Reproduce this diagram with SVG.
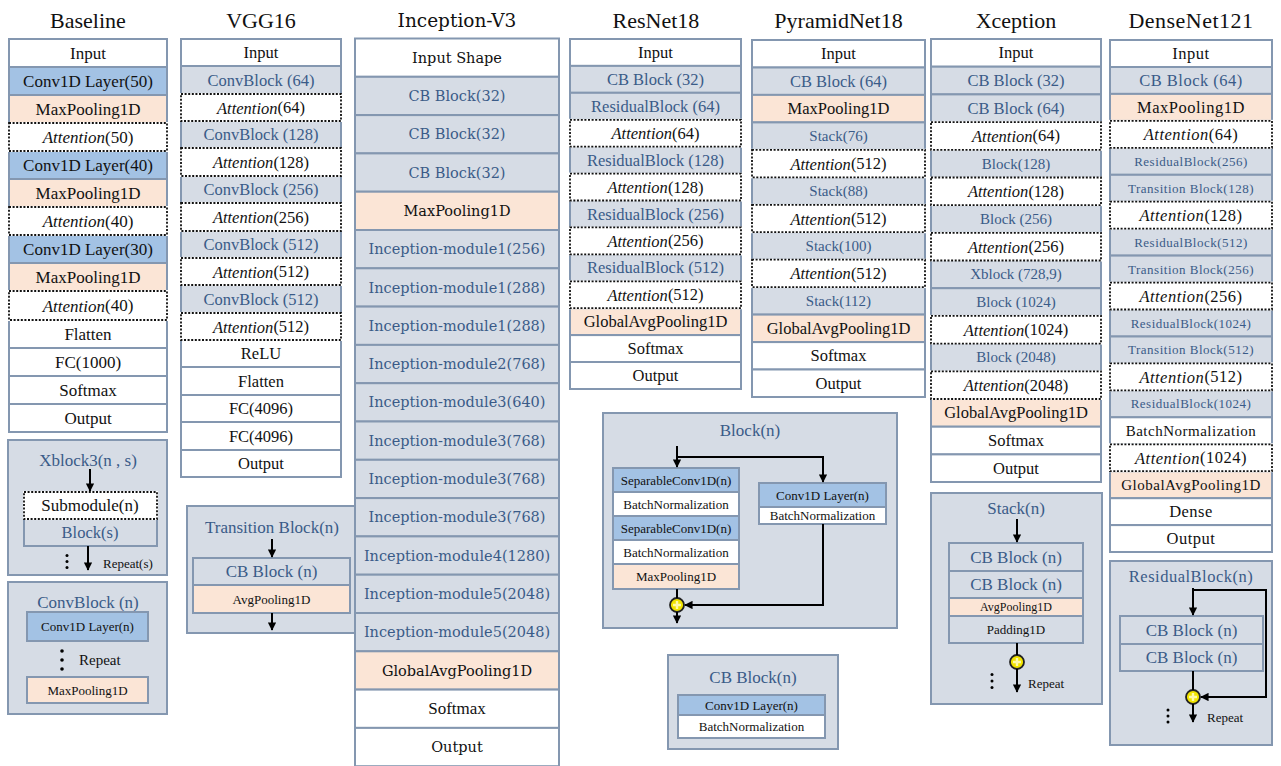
<svg xmlns="http://www.w3.org/2000/svg" width="1281" height="766" viewBox="0 0 1281 766">
<defs>
<marker id="ah" viewBox="0 0 10 10" refX="9" refY="5" markerWidth="4.2" markerHeight="4.2" orient="auto" markerUnits="strokeWidth"><path d="M0,0L10,5L0,10z" fill="#000"/></marker>
<style>
.r{stroke:#8497b0;stroke-width:2}
.w{fill:#fff}.b{fill:#a3c2e4}.g{fill:#d6dce5}.p{fill:#fbe5d6}
.ct{fill:#d6dce5;stroke:#8497b0;stroke-width:2}
.fr{fill:none;stroke:#8497b0;stroke-width:2}
.aw{fill:#fff;stroke:#fff;stroke-width:2}
.dot{fill:none;stroke:#111;stroke-width:1.8;stroke-dasharray:2 1.6}
text{font-family:"Liberation Serif","Times New Roman",serif;text-anchor:middle;dominant-baseline:central;fill:#111;font-size:16.5px}
.bl{fill:#3a5b88}
.h{font-size:22px}
.s17{font-size:17px}
.s15{font-size:15px}
.s13{font-size:13px}
.s12{font-size:12px}
.inc{font-family:"DejaVu Serif",serif;font-size:14.5px}
.dn{letter-spacing:0.5px}
.i{font-style:italic}
.st{text-anchor:start}
.ar{fill:none;stroke:#000;stroke-width:2;marker-end:url(#ah)}
.ln{fill:none;stroke:#000;stroke-width:2}
.add{fill:#f2e400;stroke:#222;stroke-width:1.8}
.pl{stroke:#fff9a8;stroke-width:2.4}
</style>
</defs>
<rect width="1281" height="766" fill="#fff"/>

<!-- Baseline -->
<g id="baseline">
<text class="h" x="88" y="20">Baseline</text>
<g id="bl-input"><rect class="r w" x="9" y="39" width="158" height="28"/><text class="s17" x="88" y="53">Input</text></g>
<g id="bl-conv50"><rect class="r b" x="9" y="67" width="158" height="28"/><text class="s17" x="88" y="81">Conv1D Layer(50)</text></g>
<g id="bl-pool1"><rect class="r p" x="9" y="95" width="158" height="28"/><text class="s17" x="88" y="109">MaxPooling1D</text></g>
<g id="bl-conv40"><rect class="r b" x="9" y="151" width="158" height="28"/><text class="s17" x="88" y="165">Conv1D Layer(40)</text></g>
<g id="bl-pool2"><rect class="r p" x="9" y="179" width="158" height="28"/><text class="s17" x="88" y="193">MaxPooling1D</text></g>
<g id="bl-conv30"><rect class="r b" x="9" y="235" width="158" height="28"/><text class="s17" x="88" y="249">Conv1D Layer(30)</text></g>
<g id="bl-pool3"><rect class="r p" x="9" y="263" width="158" height="28"/><text class="s17" x="88" y="277">MaxPooling1D</text></g>
<g id="bl-flatten"><rect class="r w" x="9" y="320" width="158" height="28"/><text class="s17" x="88" y="334">Flatten</text></g>
<g id="bl-fc"><rect class="r w" x="9" y="348" width="158" height="28"/><text class="s17" x="88" y="362">FC(1000)</text></g>
<g id="bl-softmax"><rect class="r w" x="9" y="376" width="158" height="28"/><text class="s17" x="88" y="390">Softmax</text></g>
<g id="bl-output"><rect class="r w" x="9" y="404" width="158" height="28"/><text class="s17" x="88" y="418">Output</text></g>
<g id="bl-att1"><rect class="aw" x="9" y="123" width="158" height="28"/><rect class="dot" x="9" y="123" width="158" height="28"/><text class="s17" x="88" y="137"><tspan class="i">Attention</tspan>(50)</text></g>
<g id="bl-att2"><rect class="aw" x="9" y="207" width="158" height="28"/><rect class="dot" x="9" y="207" width="158" height="28"/><text class="s17" x="88" y="221"><tspan class="i">Attention</tspan>(40)</text></g>
<g id="bl-att3"><rect class="aw" x="9" y="291" width="158" height="29"/><rect class="dot" x="9" y="291" width="158" height="29"/><text class="s17" x="88" y="305.5"><tspan class="i">Attention</tspan>(40)</text></g>
</g>

<!-- VGG16 -->
<g id="vgg16">
<text class="h" x="261" y="20">VGG16</text>
<g id="vg-input"><rect class="r w" x="181" y="39" width="160" height="27"/><text x="261" y="52.5">Input</text></g>
<g id="vg-cb64"><rect class="r g" x="181" y="66" width="160" height="28"/><text class="bl" x="261" y="80">ConvBlock (64)</text></g>
<g id="vg-cb128"><rect class="r g" x="181" y="121" width="160" height="27"/><text class="bl" x="261" y="134.5">ConvBlock (128)</text></g>
<g id="vg-cb256"><rect class="r g" x="181" y="176" width="160" height="27"/><text class="bl" x="261" y="189.5">ConvBlock (256)</text></g>
<g id="vg-cb512a"><rect class="r g" x="181" y="231" width="160" height="27"/><text class="bl" x="261" y="244.5">ConvBlock (512)</text></g>
<g id="vg-cb512b"><rect class="r g" x="181" y="285" width="160" height="28"/><text class="bl" x="261" y="299">ConvBlock (512)</text></g>
<g id="vg-relu"><rect class="r w" x="181" y="340" width="160" height="27"/><text x="261" y="353.5">ReLU</text></g>
<g id="vg-flatten"><rect class="r w" x="181" y="367" width="160" height="28"/><text x="261" y="381">Flatten</text></g>
<g id="vg-fc1"><rect class="r w" x="181" y="395" width="160" height="27"/><text x="261" y="408.5">FC(4096)</text></g>
<g id="vg-fc2"><rect class="r w" x="181" y="422" width="160" height="28"/><text x="261" y="436">FC(4096)</text></g>
<g id="vg-output"><rect class="r w" x="181" y="450" width="160" height="27"/><text x="261" y="463.5">Output</text></g>
<g id="vg-att64"><rect class="aw" x="181" y="94" width="160" height="27"/><rect class="dot" x="181" y="94" width="160" height="27"/><text x="261" y="107.5"><tspan class="i">Attention</tspan>(64)</text></g>
<g id="vg-att128"><rect class="aw" x="181" y="148" width="160" height="28"/><rect class="dot" x="181" y="148" width="160" height="28"/><text x="261" y="162"><tspan class="i">Attention</tspan>(128)</text></g>
<g id="vg-att256"><rect class="aw" x="181" y="203" width="160" height="28"/><rect class="dot" x="181" y="203" width="160" height="28"/><text x="261" y="217"><tspan class="i">Attention</tspan>(256)</text></g>
<g id="vg-att512a"><rect class="aw" x="181" y="258" width="160" height="27"/><rect class="dot" x="181" y="258" width="160" height="27"/><text x="261" y="271.5"><tspan class="i">Attention</tspan>(512)</text></g>
<g id="vg-att512b"><rect class="aw" x="181" y="313" width="160" height="27"/><rect class="dot" x="181" y="313" width="160" height="27"/><text x="261" y="326.5"><tspan class="i">Attention</tspan>(512)</text></g>
</g>

<!-- Sub-blocks left -->
<g id="xblock3">
<rect class="ct" x="8" y="440" width="159" height="135"/>
<text class="bl s17" x="88" y="460">Xblock3(n , s)</text>
<g id="xb-block"><rect class="r g" x="24" y="519" width="133" height="27"/><text class="bl" x="90" y="532.5">Block(s)</text></g>
<g id="xb-sub"><rect class="aw" x="24" y="492" width="133" height="27"/><rect class="dot" x="24" y="492" width="133" height="27"/><text class="s17" x="90" y="505.5">Submodule(n)</text></g>
<circle cx="67" cy="555.5" r="1.5" fill="#000"/><circle cx="67" cy="561.5" r="1.5" fill="#000"/><circle cx="67" cy="567.5" r="1.5" fill="#000"/>
<text class="s13 st" x="103" y="563">Repeat(s)</text>
</g>

<g id="convblock">
<rect class="ct" x="8" y="582" width="159" height="132"/>
<text class="bl s17" x="88" y="602">ConvBlock (n)</text>
<g id="cvb-conv"><rect class="r b" x="27" y="612" width="121" height="29"/><text class="s13" x="87.5" y="626.5">Conv1D Layer(n)</text></g>
<circle cx="62" cy="651" r="1.8" fill="#000"/><circle cx="62" cy="660" r="1.8" fill="#000"/><circle cx="62" cy="669" r="1.8" fill="#000"/>
<text class="s15 st" x="79" y="660">Repeat</text>
<g id="cvb-pool"><rect class="r p" x="27" y="677" width="121" height="26"/><text class="s13" x="87.5" y="690">MaxPooling1D</text></g>
</g>

<g id="transition">
<rect class="ct" x="187" y="506" width="168" height="127"/>
<text class="bl s17" x="272" y="527">Transition Block(n)</text>
<g id="tr-cb"><rect class="r g" x="193" y="558" width="157" height="27"/><text class="bl s17" x="271.5" y="571.5">CB Block (n)</text></g>
<g id="tr-pool"><rect class="r p" x="193" y="585" width="157" height="28"/><text class="s13" x="271.5" y="599">AvgPooling1D</text></g>
</g>

<!-- Inception-V3 -->
<g id="inception">
<text class="inc" style="font-size:18.5px" x="457" y="20">Inception-V3</text>
<g id="in-input"><rect class="r w" x="355" y="38.5" width="204" height="38.3"/><text class="inc" x="457" y="57.6">Input Shape</text></g>
<g id="in-cb1"><rect class="r g" x="355" y="76.8" width="204" height="38.3"/><text class="inc bl" x="457" y="96">CB Block(32)</text></g>
<g id="in-cb2"><rect class="r g" x="355" y="115.1" width="204" height="38.3"/><text class="inc bl" x="457" y="134.3">CB Block(32)</text></g>
<g id="in-cb3"><rect class="r g" x="355" y="153.4" width="204" height="38.3"/><text class="inc bl" x="457" y="172.6">CB Block(32)</text></g>
<g id="in-pool"><rect class="r p" x="355" y="191.7" width="204" height="38.3"/><text class="inc" x="457" y="210.9">MaxPooling1D</text></g>
<g id="in-m1a"><rect class="r g" x="355" y="230" width="204" height="38.3"/><text class="inc bl" x="457" y="249.2">Inception-module1(256)</text></g>
<g id="in-m1b"><rect class="r g" x="355" y="268.3" width="204" height="38.3"/><text class="inc bl" x="457" y="287.5">Inception-module1(288)</text></g>
<g id="in-m1c"><rect class="r g" x="355" y="306.6" width="204" height="38.3"/><text class="inc bl" x="457" y="325.8">Inception-module1(288)</text></g>
<g id="in-m2"><rect class="r g" x="355" y="344.9" width="204" height="38.3"/><text class="inc bl" x="457" y="364.1">Inception-module2(768)</text></g>
<g id="in-m3a"><rect class="r g" x="355" y="383.2" width="204" height="38.3"/><text class="inc bl" x="457" y="402.4">Inception-module3(640)</text></g>
<g id="in-m3b"><rect class="r g" x="355" y="421.5" width="204" height="38.3"/><text class="inc bl" x="457" y="440.7">Inception-module3(768)</text></g>
<g id="in-m3c"><rect class="r g" x="355" y="459.8" width="204" height="38.3"/><text class="inc bl" x="457" y="479">Inception-module3(768)</text></g>
<g id="in-m3d"><rect class="r g" x="355" y="498.1" width="204" height="38.3"/><text class="inc bl" x="457" y="517.3">Inception-module3(768)</text></g>
<g id="in-m4"><rect class="r g" x="355" y="536.4" width="204" height="38.3"/><text class="inc bl" x="457" y="555.6">Inception-module4(1280)</text></g>
<g id="in-m5a"><rect class="r g" x="355" y="574.7" width="204" height="38.3"/><text class="inc bl" x="457" y="593.9">Inception-module5(2048)</text></g>
<g id="in-m5b"><rect class="r g" x="355" y="613" width="204" height="38.3"/><text class="inc bl" x="457" y="632.2">Inception-module5(2048)</text></g>
<g id="in-gap"><rect class="r p" x="355" y="651.3" width="204" height="38.3"/><text class="inc" x="457" y="670.5">GlobalAvgPooling1D</text></g>
<g id="in-softmax"><rect class="r w" x="355" y="689.6" width="204" height="38.3"/><text class="s17" x="457" y="708.8">Softmax</text></g>
<g id="in-output"><rect class="r w" x="355" y="727.9" width="204" height="38.3"/><text class="inc" x="457" y="747.1">Output</text></g>
</g>

<!-- ResNet18 -->
<g id="resnet18">
<text class="h" x="656" y="20">ResNet18</text>
<g id="rn-input"><rect class="r w" x="570" y="39" width="171" height="26.9"/><text x="655.5" y="52.5">Input</text></g>
<g id="rn-cb32"><rect class="r g" x="570" y="65.9" width="171" height="26.9"/><text class="bl" x="655.5" y="79.4">CB Block (32)</text></g>
<g id="rn-rb64"><rect class="r g" x="570" y="92.8" width="171" height="27"/><text class="bl" x="655.5" y="106.3">ResidualBlock (64)</text></g>
<g id="rn-rb128"><rect class="r g" x="570" y="146.7" width="171" height="26.9"/><text class="bl" x="655.5" y="160.1">ResidualBlock (128)</text></g>
<g id="rn-rb256"><rect class="r g" x="570" y="200.5" width="171" height="26.9"/><text class="bl" x="655.5" y="214">ResidualBlock (256)</text></g>
<g id="rn-rb512"><rect class="r g" x="570" y="254.4" width="171" height="26.9"/><text class="bl" x="655.5" y="267.8">ResidualBlock (512)</text></g>
<g id="rn-gap"><rect class="r p" x="570" y="308.2" width="171" height="26.9"/><text x="655.5" y="321.7">GlobalAvgPooling1D</text></g>
<g id="rn-softmax"><rect class="r w" x="570" y="335.1" width="171" height="26.9"/><text x="655.5" y="348.6">Softmax</text></g>
<g id="rn-output"><rect class="r w" x="570" y="362" width="171" height="27"/><text x="655.5" y="375.5">Output</text></g>
<g id="rn-att64"><rect class="aw" x="570" y="119.8" width="171" height="26.9"/><rect class="dot" x="570" y="119.8" width="171" height="26.9"/><text x="655.5" y="133.2"><tspan class="i">Attention</tspan>(64)</text></g>
<g id="rn-att128"><rect class="aw" x="570" y="173.6" width="171" height="26.9"/><rect class="dot" x="570" y="173.6" width="171" height="26.9"/><text x="655.5" y="187.1"><tspan class="i">Attention</tspan>(128)</text></g>
<g id="rn-att256"><rect class="aw" x="570" y="227.4" width="171" height="27"/><rect class="dot" x="570" y="227.4" width="171" height="27"/><text x="655.5" y="240.9"><tspan class="i">Attention</tspan>(256)</text></g>
<g id="rn-att512"><rect class="aw" x="570" y="281.3" width="171" height="26.9"/><rect class="dot" x="570" y="281.3" width="171" height="26.9"/><text x="655.5" y="294.7"><tspan class="i">Attention</tspan>(512)</text></g>
</g>

<!-- Block(n) -->
<g id="block-n">
<rect class="ct" x="603" y="413" width="294" height="215"/>
<text class="bl s17" x="750" y="430">Block(n)</text>
<g id="bk-sep1"><rect class="r b" x="613" y="468" width="126" height="24"/><text class="s13" x="676" y="480">SeparableConv1D(n)</text></g>
<g id="bk-bn1"><rect class="r w" x="613" y="492" width="126" height="24"/><text class="s13" x="676" y="504">BatchNormalization</text></g>
<g id="bk-sep2"><rect class="r b" x="613" y="516" width="126" height="24"/><text class="s13" x="676" y="528">SeparableConv1D(n)</text></g>
<g id="bk-bn2"><rect class="r w" x="613" y="540" width="126" height="24"/><text class="s13" x="676" y="552">BatchNormalization</text></g>
<g id="bk-pool"><rect class="r p" x="613" y="564" width="126" height="25"/><text class="s13" x="676" y="576.5">MaxPooling1D</text></g>
<g id="bk-conv"><rect class="r b" x="759" y="483" width="127" height="24"/><text class="s13" x="822.5" y="495">Conv1D Layer(n)</text></g>
<g id="bk-bn3"><rect class="r w" x="759" y="507" width="127" height="17"/><text class="s13" x="822.5" y="515.5">BatchNormalization</text></g>
<g id="bk-add"><circle class="add" cx="677" cy="605" r="7"/><path class="pl" d="M673,605H681M677,601V609"/></g>
</g>

<!-- CB Block(n) -->
<g id="cb-block-n">
<rect class="ct" x="668" y="655" width="170" height="94"/>
<text class="bl s17" x="753" y="677">CB Block(n)</text>
<g id="cbn-conv"><rect class="r b" x="678" y="695" width="147" height="20"/><text class="s13" x="751.5" y="705">Conv1D Layer(n)</text></g>
<g id="cbn-bn"><rect class="r w" x="678" y="715" width="147" height="23"/><text class="s13" x="751.5" y="726.5">BatchNormalization</text></g>
</g>

<!-- PyramidNet18 -->
<g id="pyramidnet18">
<text class="h" x="838.5" y="20">PyramidNet18</text>
<g id="pn-input"><rect class="r w" x="752" y="40" width="173" height="27.5"/><text x="838.5" y="53.7">Input</text></g>
<g id="pn-cb64"><rect class="r g" x="752" y="67.5" width="173" height="27.4"/><text class="bl" x="838.5" y="81.2">CB Block (64)</text></g>
<g id="pn-pool"><rect class="r p" x="752" y="94.9" width="173" height="27.5"/><text x="838.5" y="108.6">MaxPooling1D</text></g>
<g id="pn-s76"><rect class="r g" x="752" y="122.4" width="173" height="27.4"/><text class="bl s15" x="838.5" y="136.1">Stack(76)</text></g>
<g id="pn-s88"><rect class="r g" x="752" y="177.3" width="173" height="27.5"/><text class="bl s15" x="838.5" y="191">Stack(88)</text></g>
<g id="pn-s100"><rect class="r g" x="752" y="232.2" width="173" height="27.5"/><text class="bl s15" x="838.5" y="245.9">Stack(100)</text></g>
<g id="pn-s112"><rect class="r g" x="752" y="287.1" width="173" height="27.5"/><text class="bl s15" x="838.5" y="300.8">Stack(112)</text></g>
<g id="pn-gap"><rect class="r p" x="752" y="314.6" width="173" height="27.5"/><text x="838.5" y="328.3">GlobalAvgPooling1D</text></g>
<g id="pn-softmax"><rect class="r w" x="752" y="342.1" width="173" height="27.4"/><text x="838.5" y="355.8">Softmax</text></g>
<g id="pn-output"><rect class="r w" x="752" y="369.5" width="173" height="27.5"/><text x="838.5" y="383.2">Output</text></g>
<g id="pn-att1"><rect class="aw" x="752" y="149.8" width="173" height="27.5"/><rect class="dot" x="752" y="149.8" width="173" height="27.5"/><text x="838.5" y="163.5"><tspan class="i">Attention</tspan>(512)</text></g>
<g id="pn-att2"><rect class="aw" x="752" y="204.8" width="173" height="27.4"/><rect class="dot" x="752" y="204.8" width="173" height="27.4"/><text x="838.5" y="218.5"><tspan class="i">Attention</tspan>(512)</text></g>
<g id="pn-att3"><rect class="aw" x="752" y="259.7" width="173" height="27.4"/><rect class="dot" x="752" y="259.7" width="173" height="27.4"/><text x="838.5" y="273.4"><tspan class="i">Attention</tspan>(512)</text></g>
</g>

<!-- Xception -->
<g id="xception">
<text class="h" x="1016" y="20">Xception</text>
<g id="xc-input"><rect class="r w" x="931" y="39" width="170" height="27.7"/><text x="1016" y="52.8">Input</text></g>
<g id="xc-cb32"><rect class="r g" x="931" y="66.7" width="170" height="27.7"/><text class="bl" x="1016" y="80.5">CB Block (32)</text></g>
<g id="xc-cb64"><rect class="r g" x="931" y="94.4" width="170" height="27.7"/><text class="bl" x="1016" y="108.2">CB Block (64)</text></g>
<g id="xc-b128"><rect class="r g" x="931" y="149.8" width="170" height="27.7"/><text class="bl s15" x="1016" y="163.6">Block(128)</text></g>
<g id="xc-b256"><rect class="r g" x="931" y="205.1" width="170" height="27.7"/><text class="bl s15" x="1016" y="219">Block (256)</text></g>
<g id="xc-xb"><rect class="r g" x="931" y="260.5" width="170" height="27.7"/><text class="bl s15" x="1016" y="274.3">Xblock (728,9)</text></g>
<g id="xc-b1024"><rect class="r g" x="931" y="288.2" width="170" height="27.7"/><text class="bl s15" x="1016" y="302">Block (1024)</text></g>
<g id="xc-b2048"><rect class="r g" x="931" y="343.6" width="170" height="27.7"/><text class="bl s15" x="1016" y="357.4">Block (2048)</text></g>
<g id="xc-gap"><rect class="r p" x="931" y="399" width="170" height="27.7"/><text x="1016" y="412.8">GlobalAvgPooling1D</text></g>
<g id="xc-softmax"><rect class="r w" x="931" y="426.7" width="170" height="27.7"/><text x="1016" y="440.5">Softmax</text></g>
<g id="xc-output"><rect class="r w" x="931" y="454.4" width="170" height="27.6"/><text x="1016" y="468.2">Output</text></g>
<g id="xc-att64"><rect class="aw" x="931" y="122.1" width="170" height="27.7"/><rect class="dot" x="931" y="122.1" width="170" height="27.7"/><text x="1016" y="135.9"><tspan class="i">Attention</tspan>(64)</text></g>
<g id="xc-att128"><rect class="aw" x="931" y="177.5" width="170" height="27.6"/><rect class="dot" x="931" y="177.5" width="170" height="27.6"/><text x="1016" y="191.3"><tspan class="i">Attention</tspan>(128)</text></g>
<g id="xc-att256"><rect class="aw" x="931" y="232.8" width="170" height="27.7"/><rect class="dot" x="931" y="232.8" width="170" height="27.7"/><text x="1016" y="246.7"><tspan class="i">Attention</tspan>(256)</text></g>
<g id="xc-att1024"><rect class="aw" x="931" y="315.9" width="170" height="27.7"/><rect class="dot" x="931" y="315.9" width="170" height="27.7"/><text x="1016" y="329.7"><tspan class="i">Attention</tspan>(1024)</text></g>
<g id="xc-att2048"><rect class="aw" x="931" y="371.3" width="170" height="27.7"/><rect class="dot" x="931" y="371.3" width="170" height="27.7"/><text x="1016" y="385.1"><tspan class="i">Attention</tspan>(2048)</text></g>
</g>

<!-- Stack(n) -->
<g id="stack-n">
<rect class="ct" x="931" y="493" width="171" height="211"/>
<text class="bl s17" x="1016" y="508">Stack(n)</text>
<g id="sk-cb1"><rect class="r g" x="949" y="543" width="134" height="28"/><text class="bl s17" x="1016" y="557">CB Block (n)</text></g>
<g id="sk-cb2"><rect class="r g" x="949" y="571" width="134" height="27"/><text class="bl s17" x="1016" y="584.5">CB Block (n)</text></g>
<g id="sk-pool"><rect class="r p" x="949" y="598" width="134" height="18"/><text class="s12" x="1016" y="607">AvgPooling1D</text></g>
<g id="sk-pad"><rect class="r g" x="949" y="616" width="134" height="27"/><text class="s13" x="1016" y="629.5">Padding1D</text></g>
<rect class="fr" x="949" y="543" width="134" height="100"/>
<g id="sk-add"><circle class="add" cx="1017" cy="662" r="7"/><path class="pl" d="M1013,662H1021M1017,658V666"/></g>
<circle cx="992" cy="674.5" r="1.5" fill="#000"/><circle cx="992" cy="681" r="1.5" fill="#000"/><circle cx="992" cy="687.5" r="1.5" fill="#000"/>
<text class="s13 st" x="1028" y="683">Repeat</text>
</g>

<!-- DenseNet121 -->
<g id="densenet121" class="dn">
<text class="h" x="1191" y="20">DenseNet121</text>
<g id="dn-input"><rect class="r w" x="1110" y="40" width="162" height="27"/><text x="1191" y="53.5">Input</text></g>
<g id="dn-cb64"><rect class="r g" x="1110" y="67" width="162" height="26.9"/><text class="bl" x="1191" y="80.4">CB Block (64)</text></g>
<g id="dn-pool"><rect class="r p" x="1110" y="93.9" width="162" height="27"/><text x="1191" y="107.4">MaxPooling1D</text></g>
<g id="dn-rb256"><rect class="r g" x="1110" y="147.8" width="162" height="27"/><text class="bl s13" x="1191" y="161.3">ResidualBlock(256)</text></g>
<g id="dn-tb128"><rect class="r g" x="1110" y="174.8" width="162" height="26.9"/><text class="bl s13" x="1191" y="188.2">Transition Block(128)</text></g>
<g id="dn-rb512"><rect class="r g" x="1110" y="228.7" width="162" height="26.9"/><text class="bl s13" x="1191" y="242.1">ResidualBlock(512)</text></g>
<g id="dn-tb256"><rect class="r g" x="1110" y="255.6" width="162" height="27"/><text class="bl s13" x="1191" y="269.1">Transition Block(256)</text></g>
<g id="dn-rb1024a"><rect class="r g" x="1110" y="309.5" width="162" height="27"/><text class="bl s13" x="1191" y="323">ResidualBlock(1024)</text></g>
<g id="dn-tb512"><rect class="r g" x="1110" y="336.5" width="162" height="26.9"/><text class="bl s13" x="1191" y="349.9">Transition Block(512)</text></g>
<g id="dn-rb1024b"><rect class="r g" x="1110" y="390.4" width="162" height="26.9"/><text class="bl s13" x="1191" y="403.8">ResidualBlock(1024)</text></g>
<g id="dn-bn"><rect class="r w" x="1110" y="417.3" width="162" height="27"/><text class="s15" x="1191" y="430.8">BatchNormalization</text></g>
<g id="dn-gap"><rect class="r p" x="1110" y="471.2" width="162" height="27"/><text class="s15" x="1191" y="484.7">GlobalAvgPooling1D</text></g>
<g id="dn-dense"><rect class="r w" x="1110" y="498.2" width="162" height="26.9"/><text x="1191" y="511.6">Dense</text></g>
<g id="dn-output"><rect class="r w" x="1110" y="525.1" width="162" height="26.9"/><text x="1191" y="538.6">Output</text></g>
<g id="dn-att64"><rect class="aw" x="1110" y="120.9" width="162" height="26.9"/><rect class="dot" x="1110" y="120.9" width="162" height="26.9"/><text x="1191" y="134.3"><tspan class="i">Attention</tspan>(64)</text></g>
<g id="dn-att128"><rect class="aw" x="1110" y="201.7" width="162" height="27"/><rect class="dot" x="1110" y="201.7" width="162" height="27"/><text x="1191" y="215.2"><tspan class="i">Attention</tspan>(128)</text></g>
<g id="dn-att256"><rect class="aw" x="1110" y="282.6" width="162" height="26.9"/><rect class="dot" x="1110" y="282.6" width="162" height="26.9"/><text x="1191" y="296"><tspan class="i">Attention</tspan>(256)</text></g>
<g id="dn-att512"><rect class="aw" x="1110" y="363.4" width="162" height="27"/><rect class="dot" x="1110" y="363.4" width="162" height="27"/><text x="1191" y="376.9"><tspan class="i">Attention</tspan>(512)</text></g>
<g id="dn-att1024"><rect class="aw" x="1110" y="444.3" width="162" height="26.9"/><rect class="dot" x="1110" y="444.3" width="162" height="26.9"/><text x="1191" y="457.7"><tspan class="i">Attention</tspan>(1024)</text></g>
</g>

<!-- ResidualBlock(n) -->
<g id="residual-n">
<rect class="ct" x="1110" y="561" width="162" height="184"/>
<text class="bl dn" x="1191" y="576">ResidualBlock(n)</text>
<g id="rs-cb1"><rect class="r g" x="1120" y="616" width="143" height="28"/><text class="bl s17" x="1191.5" y="630">CB Block (n)</text></g>
<g id="rs-cb2"><rect class="r g" x="1120" y="644" width="143" height="27"/><text class="bl s17" x="1191.5" y="657.5">CB Block (n)</text></g>
<rect class="fr" x="1120" y="616" width="143" height="55"/>
<g id="rs-add"><circle class="add" cx="1193" cy="697" r="7"/><path class="pl" d="M1189,697H1197M1193,693V701"/></g>
<circle cx="1168" cy="710" r="1.5" fill="#000"/><circle cx="1168" cy="716" r="1.5" fill="#000"/><circle cx="1168" cy="722" r="1.5" fill="#000"/>
<text class="s13 st" x="1207" y="717">Repeat</text>
</g>

<!-- Connectors -->
<g id="connectors">
<path class="ar" d="M90,469V491"/>
<path class="ar" d="M88,546V570"/>
<path class="ar" d="M272,539V557"/>
<path class="ar" d="M272,613V630"/>
<path class="ar" d="M677,446V467"/>
<path class="ar" d="M677,457H823V482"/>
<path class="ar" d="M823,524V605H685"/>
<path class="ln" d="M677,589V598"/>
<path class="ar" d="M677,612V623"/>
<path class="ar" d="M1017,519V542"/>
<path class="ln" d="M1017,643V655"/>
<path class="ar" d="M1017,669V692"/>
<path class="ar" d="M1193,588V615"/>
<path class="ar" d="M1193,590H1266V697H1201"/>
<path class="ln" d="M1193,671V690"/>
<path class="ar" d="M1193,704V722"/>
</g>
</svg>
